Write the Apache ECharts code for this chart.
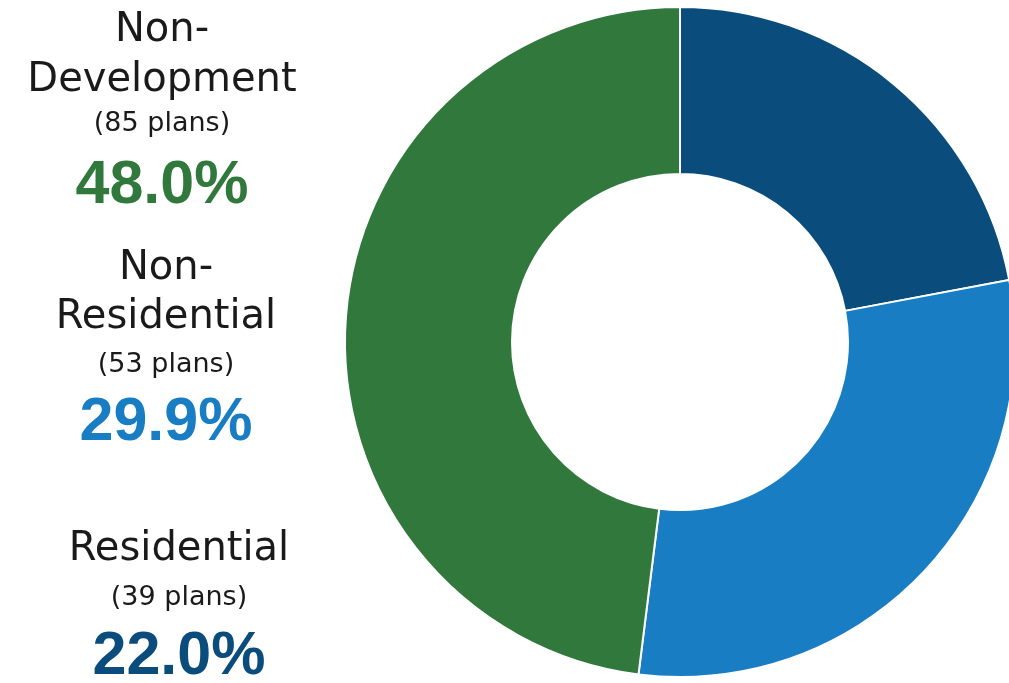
<!DOCTYPE html>
<html>
<head>
<meta charset="utf-8">
<script src="https://cdn.jsdelivr.net/npm/echarts@6/dist/echarts.min.js"></script>
<style>
  html, body { margin: 0; padding: 0; background: #ffffff; }
  #chart { width: 1009px; height: 683px; }
</style>
</head>
<body>
<div id="chart"></div>
<script>
// Plan categories, in clockwise order from 12 o'clock
const categories = ['Residential', 'Non-Residential', 'Non-Development'];
// Number of plans in each category
const planCounts = [39, 53, 85];
// Text lines naming each category
const nameLines = [['Residential'], ['Non-', 'Residential'], ['Non-', 'Development']];
const colors = ['#0a4c7b', '#187dc2', '#31783c'];

const total = planCounts.reduce((a, b) => a + b, 0);
const pct = planCounts.map(v => (v / total * 100).toFixed(1) + '%');

// Label block layout: center x and the y of each line (name lines, count, percent)
const blocks = [
  { cat: 0, x: 179, ys: [550, 598, 657] },
  { cat: 1, x: 166, ys: [269, 318, 365, 423] },
  { cat: 2, x: 162, ys: [31, 81, 124, 186] }
];

const graphics = [];
blocks.forEach(b => {
  const i = b.cat;
  const lines = nameLines[i];
  lines.forEach((t, k) => {
    graphics.push({
      type: 'text', x: b.x, y: b.ys[k],
      style: { text: t, fill: '#1a1a1a', font: '40px "DejaVu Sans"', align: 'center', verticalAlign: 'middle' }
    });
  });
  graphics.push({
    type: 'text', x: b.x, y: b.ys[lines.length],
    style: { text: '(' + planCounts[i] + ' plans)', fill: '#1a1a1a', font: '27px "DejaVu Sans"', align: 'center', verticalAlign: 'middle' }
  });
  graphics.push({
    type: 'text', x: b.x, y: b.ys[lines.length + 1],
    style: { text: pct[i], fill: colors[i], font: 'bold 61px "Liberation Sans"', align: 'center', verticalAlign: 'middle' }
  });
});

const chart = echarts.init(document.getElementById('chart'), null, { renderer: 'canvas' });
chart.setOption({
  animation: false,
  backgroundColor: '#ffffff',
  graphic: graphics,
  series: [{
    type: 'pie',
    center: [680, 342],
    radius: [168, 335],
    startAngle: 90,
    clockwise: true,
    label: { show: false },
    labelLine: { show: false },
    itemStyle: { borderColor: '#ffffff', borderWidth: 2 },
    emphasis: { disabled: true },
    data: categories.map((c, i) => ({ name: c, value: planCounts[i], itemStyle: { color: colors[i] } }))
  }]
});
</script>
</body>
</html>
